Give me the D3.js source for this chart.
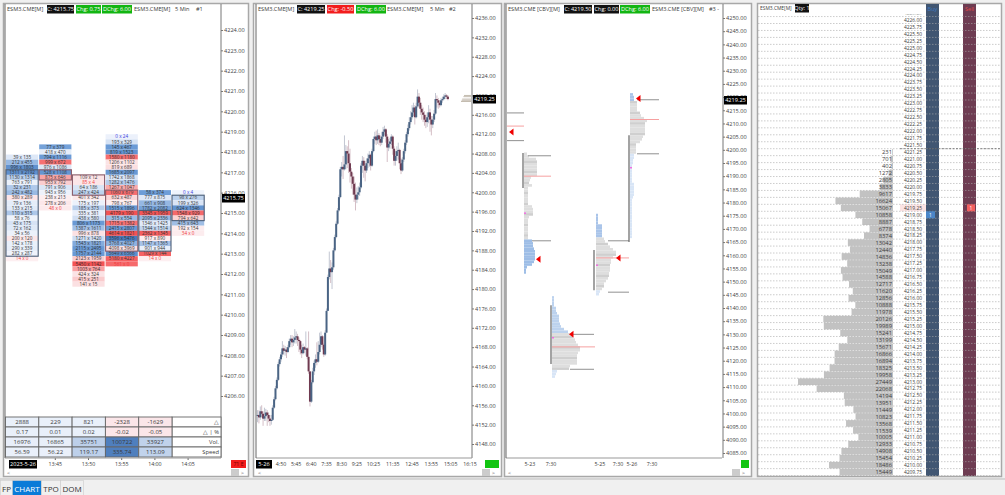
<!DOCTYPE html>
<html>
<head>
<meta charset="utf-8">
<script src="https://cdn.jsdelivr.net/npm/d3@7"></script>
<style>
body { margin: 0; background: #f0f0f0; overflow: hidden; }
text { font-family: "Open Sans", sans-serif; fill: #333; }
</style>
</head>
<body>
<div class="chart"></div>
<script>
// pane 1 footprint, top price + "bid x ask" per row
const fpTimes = ["13:40", "13:45", "13:50", "13:55", "14:00", "14:05"];
const fpTops = [4217.75, 4218.25, 4216.75, 4218.75, 4216, 4216];
const fpBid = [
  [39,212,996,1311,1130,763,32,242,380,79,133,110,58,43,72,34,200,142,290,282,14],
  [77,418,794,999,976,528,875,953,791,943,238,278,48],
  [109,85,64,247,401,175,185,335,438,806,1387,996,1271,1543,2115,1757,2123,5450,1003,424,415,141],
  [0,193,145,819,1580,1206,819,1685,1742,1282,1267,1060,632,798,1515,4179,315,1715,2415,4614,3596,3768,4098,5649,5180,561],
  [58,777,661,1782,3345,2095,1346,1344,2362,917,1147,901,1029,14],
  [0,98,199,624,1548,794,415,192,34]
];
const fpAsk = [
  [135,455,1803,2192,1314,791,231,482,289,136,215,315,76,175,162,56,120,178,339,287,0],
  [379,470,1116,672,1086,1108,646,792,906,956,213,206,0],
  [12,4,186,424,342,197,373,381,580,1173,1611,878,1420,1821,2495,2144,1959,1142,764,324,251,15],
  [24,329,467,1523,1180,1102,689,2097,1868,1476,1047,679,487,767,1896,190,554,1382,2807,1821,5476,4027,3969,6566,4227,0],
  [374,875,908,2082,1959,2336,1425,1514,1345,890,1365,944,144,0],
  [4,276,326,1346,929,642,643,154,0]
];
// value area boxes per column
const fpBoxHigh = [4217, 4217, 4216.75, 4216, 4215, 4215.75];
const fpBoxLow = [4213, 4216.75, 4216, 4213.25, 4213.25, 4214.75];
const fpBoxTone = ["#4d5f78", "#8a5a68", "#8a5a68", "#8a5a68", "#4d5f78", "#4d5f78"];
const statDelta = [2888, 229, 821, -2328, -1629];
const statPct = ["0.17", "0.01", "0.02", "-0.02", "-0.05"];
const statVol = [16976, 16865, 35751, 100722, 33927];
const statSpeed = ["56.59", "56.22", "119.17", "335.74", "113.09"];
const statRows = ["△", "△ | %", "Vol.", "Speed"];

// pane 2 candles, 5 min bars
const firstBar = "3:25";
const closes = [4154,4153.5,4154.75,4154.25,4153.25,4153.75,4154.5,4154,4153.25,4152.75,4153,4155.5,4157.25,4159.5,4161.25,4164.5,4165.5,4166.5,4167.75,4167.25,
  4167.5,4167,4168,4169.25,4169.75,4169,4169.5,4170,4170.25,4169.5,4169.25,4167.5,4166.75,4168,4167.5,4167.75,4166,4163,4156.75,4160.75,
  4163,4164.75,4165.5,4165,4167,4168.5,4170.25,4168.5,4166.5,4171,4175.5,4182.5,4184.25,4183.5,4184.5,4188,4190.75,4193.5,4196.25,4199,
  4204.75,4205.25,4204.75,4205.75,4208.5,4208,4206,4204.25,4203.25,4201.75,4199.5,4198.5,4199.5,4200,4201,4205.5,4206.5,4205.5,4204.5,4206,
  4207,4207.75,4205.5,4208.5,4211,4211.5,4210.75,4211.75,4211,4210.25,4211.5,4212.5,4213,4211.5,4209.25,4210,4210.5,4211.5,4209,4206.5,
  4207.5,4208.5,4208.75,4206,4204.5,4206.75,4208.5,4210.25,4212,4213.25,4214.5,4215.5,4216.5,4217.5,4215.5,4217.75,4219.75,4218.5,4217.25,4216.5,
  4216,4215,4214.5,4215.5,4216.5,4215,4214,4215,4216.25,4219.25,4219,4218.5,4218,4219,4219.25,4219.75,4220,4219.75,4219.25];
const highs = [4155,4155,4155.75,4156,4154.75,4155.5,4155.25,4155,4154.5,4154,4154,4156,4157.75,4160,4161.75,4165,4166,4167,4169.25,4168.5,
  4168.25,4168,4168.5,4169.75,4170.5,4170.5,4170.25,4171.75,4171.25,4170.75,4170,4169.5,4168.5,4168.75,4168.25,4171.25,4168,4171.25,4163,4161.25,
  4163.75,4165.25,4166.5,4169,4169.25,4171,4171.25,4170.5,4168.75,4171.5,4176,4183,4187.75,4186,4185.5,4188.5,4191.25,4194,4196.75,4199.5,
  4205.25,4206.25,4207.5,4211.75,4209.75,4209.5,4210.75,4209,4205,4204,4203.25,4202,4201,4201.25,4202,4206,4207.5,4207.25,4206.5,4207,
  4208,4208.5,4208,4209,4211.5,4212.5,4212.75,4213,4212.25,4211.75,4212.5,4213.5,4213.75,4213.25,4212,4211,4211.25,4212,4211.75,4209.5,
  4208.5,4209.5,4210.25,4209,4207,4207.25,4209,4210.75,4212.5,4214,4215.5,4216.75,4218,4218.5,4218,4218.5,4221.25,4220.5,4219.5,4218,
  4217.5,4216.75,4216,4216.5,4218,4217.25,4215.75,4215.75,4217,4220.5,4220,4219.5,4219,4219.5,4219.75,4220.25,4220.5,4220.25,4220];
const lows = [4152.5,4152.25,4153,4153.5,4151.75,4152.75,4152.75,4151.75,4152.5,4151.75,4152,4152.75,4155.25,4157,4159.25,4161,4164,4165,4166,4166.5,
  4166.25,4165.75,4166.75,4167.75,4168.5,4168,4168.25,4168.75,4168.75,4168.25,4167,4166.5,4165.75,4166.5,4166.75,4166.25,4165.5,4162.5,4155.75,4156.5,
  4160.5,4162.25,4163.75,4164.25,4164.75,4166.5,4168,4167.5,4166,4166.25,4171,4175.5,4182,4181.25,4180,4184,4187.75,4190.5,4193.25,4196,
  4198.75,4203.25,4202.75,4204.5,4204.75,4205,4204,4202,4200.75,4199.5,4198,4196.25,4197.75,4198.5,4199.25,4200.75,4204,4203,4202.25,4204,
  4205,4205.25,4204.5,4205.25,4208.25,4210,4209.75,4210,4209.75,4209.5,4209.75,4211,4211.75,4210.25,4206.25,4208.5,4209,4209.75,4207.75,4205.5,
  4205.5,4206.5,4206.75,4204.75,4203.75,4204.25,4206.25,4208,4209.75,4211.5,4212.75,4214,4215,4215.75,4214,4215.25,4217.5,4217.5,4216,4215,
  4214.5,4213.75,4213.25,4213.5,4214.25,4212.5,4211.75,4213.25,4214.5,4216,4217.5,4217.25,4217.5,4217.75,4218.5,4219,4219.25,4219.25,4219];
const candleTicks = ["4:50","5:45","6:40","7:35","8:30","9:25","10:25","11:35","12:45","13:55","15:05","16:15"];
const lastTrades = [4220, 4219.75, 4219.25, 4219, 4218.75];

// pane 3 volume profiles, one row per point from the top price down
const profileSlots = [17, 45, 89, 123];
const profileTops = [4199, 4144.5, 4175.75, 4221.5];
const profileLead = [0, 14, 9, 3]; // blue rows above the gray block
const profileGray = [33, 14, 20, 20];
const profileWidths = [
  [3,5,12,13,13,13,13,13,13,7,6,5,8,4,4,4,4,4,4,4,8,9,9,9,5,4,4,4,4,4,4,4,4,8,9,9,10,11,11,11,11,10,8,3,2,2],
  [2,2,2,2,4,4,5,7,7,7,8,9,12,16,20,21,23,24,26,28,28,26,25,25,25,25,18,17,5,4,3],
  [2,2,2,2,6,6,6,6,6,8,9,12,14,17,20,20,17,15,15,14,14,14,13,13,12,10,8,8,6,4,3],
  [3,4,4,7,7,7,7,10,11,14,17,15,15,15,15,15,13,12,10,6,6,6,6,4,4,3,3,2,2,2,2,2,2,2,4,4,4,4,4,3,2,2,2,2,2,2,2,2,2,2,2,2,2,2,2]
];
const vaPrices = [4214, 4203.5, 4197.75, 4165.5, 4130, 4116.75, 4165.5, 4146, 4219, 4198.5];
const vaFrom = [0, 0, 21, 25, 66, 63, 101, 101, 130, 130];
const vaTo = [17, 17, 44, 44, 87, 87, 122, 122, 152, 152];
const pocPrices = [4209, 4190, 4125.25, 4159, 4211.5];
const pocFrom = [0, 17, 45, 89, 123];
const pocTo = [17, 44, 88, 122, 152];
const arrowPrices = [4206.75, 4158.5, 4130, 4159, 4219.5];
const arrowSlots = [4, 31, 64, 111, 131];
const spineSlots = [16, 44, 87, 122];
const spineTop = [4198.75, 4141, 4162, 4205.5];
const spineBottom = [4185.5, 4118.75, 4146.75, 4165];
const dotPrices = [4176.25, 4129, 4156.5, 4193.5];
const pane3Ticks = d3.range(4250, 4080, -5);
const pane3Labels = ["5-23", "7:30", "5-25", "7:30", "5-26", "7:30"];
const pane3LabelSlot = [23, 44, 93, 111, 125, 145];

// pane 4 ladder
const ladderTop = 4226.25;
const ladderBottom = 4209.75;
const ladderFirstVol = 4221.25;
const ladderVol = [231,701,402,1272,2805,3833,9617,16624,15067,10858,8887,6778,8374,13042,12440,14836,13238,15049,14588,12717,11620,12856,10888,11978,20126,19989,15241,13199,15671,16866,16894,18325,19958,27449,22068,14194,13951,11449,10823,13568,11539,10005,12933,14908,15454,18486,15449];

const tabNames = ["FP", "CHART", "TPO", "DOM"];

const svg = d3.select(".chart").append("svg").attr("width", 1005).attr("height", 495);
const defs = svg.append("defs");
const LABEL = 5.6;

function txt(g, x, y, s, size, anchor, color) {
  return g.append("text").attr("x", x).attr("y", y).attr("font-size", size)
    .attr("text-anchor", anchor || "start").style("fill", color || "#3a3a3a").text(s);
}
function tag(g, x, y, w, s, bg, color) {
  g.append("rect").attr("x", x).attr("y", y - 6).attr("width", w).attr("height", 8.5).attr("fill", bg);
  txt(g, x + w / 2, y, s, LABEL, "middle", color || "#fff");
}
function frame(x, w) {
  svg.append("rect").attr("x", x + .5).attr("y", 3.5).attr("width", w).attr("height", 473)
    .attr("fill", "#fff").attr("stroke", "#a8a8a8").attr("stroke-width", 1.5);
}
function priceAxis(scale, x, ticks) {
  const ax = svg.append("g").attr("transform", `translate(${x},0)`)
    .call(d3.axisRight(scale).tickValues(ticks).tickSize(2).tickSizeOuter(0).tickPadding(1).tickFormat(d3.format(".2f")));
  ax.select("path").remove();
  ax.selectAll("line").attr("stroke", "#777");
  ax.selectAll("text").attr("font-size", LABEL).style("font-family", '"Open Sans", sans-serif').style("fill", "#444");
  ax.append("line").attr("y1", 4).attr("y2", 458).attr("stroke", "#777");
}
function bottomBits(x0, x1, boxX, boxW, boxColor, label) {
  svg.append("line").attr("x1", x0).attr("x2", x1 - 4).attr("y1", 458).attr("y2", 458).attr("stroke", "#999");
  svg.append("line").attr("x1", x0).attr("x2", x0).attr("y1", 4).attr("y2", 458).attr("stroke", "#666");
  svg.append("rect").attr("x", boxX).attr("y", 460).attr("width", boxW).attr("height", 8).attr("fill", boxColor);
  if (label) txt(svg, boxX + boxW / 2, 466, label, 5.2, "middle", "#700");
  txt(svg, x0 + 2, 474.5, "<", 5.6, "start", "#666");
  txt(svg, x1 + 19, 474.5, ">", 5.6, "end", "#666");
  svg.append("rect").attr("x", x1 + 6).attr("y", 469).attr("width", 8).attr("height", 7).attr("fill", "#ccc");
}

frame(3, 245); frame(253, 248); frame(504, 247); frame(757, 244);

// ---------- pane 1
const y1 = d3.scaleLinear().domain([4224, 4206]).range([30, 396]);
const x1 = d3.scaleBand().domain(fpTimes).range([5.5, 204.7]);
const rowH1 = y1(4224) - y1(4224.25);
const blues = d3.scaleLinear().domain([0, 130, 320, 1800]).range(["#f0f4fc", "#d8e4f5", "#6b9bd6", "#4a7cbd"]).clamp(true);
const reds = d3.scaleLinear().domain([0, 130, 320, 1500]).range(["#fdf1f3", "#fbdfe1", "#f67072", "#f45254"]).clamp(true);
const g1 = svg.append("g");
fpTimes.forEach((t, c) => {
  fpBid[c].forEach((b, i) => {
    const a = fpAsk[c][i];
    const price = fpTops[c] - i * .25;
    const d = a - b;
    g1.append("rect").attr("x", x1(t) + .5).attr("width", x1.bandwidth() - 1)
      .attr("y", y1(price) - rowH1 / 2).attr("height", rowH1)
      .attr("fill", d >= 0 ? blues(d) : reds(-d));
    const col = b === 0 ? "#3a3adf" : a < 5 ? "#f03a3a" : "#333";
    txt(g1, x1(t) + x1.bandwidth() / 2, y1(price) + 1.7, `${b} x ${a}`, 4.6, "middle", col);
  });
  g1.append("rect").attr("x", x1(t) + .5).attr("width", x1.bandwidth() - 1)
    .attr("y", y1(fpBoxHigh[c]) - rowH1 / 2).attr("height", y1(fpBoxLow[c]) - y1(fpBoxHigh[c]) + rowH1)
    .attr("fill", "none").attr("stroke", fpBoxTone[c]).attr("stroke-width", 1.1);
});
priceAxis(y1, 221, d3.range(4224, 4205, -1));
tag(svg, 222, 200, 23, "4215.75", "#000");

txt(svg, 7, 11, "ESM3.CME[M]", LABEL);
tag(svg, 47, 11, 27, "C: 4215.75", "#111");
tag(svg, 76, 11, 25, "Chg: 0.75", "#12b512");
tag(svg, 102, 11, 30, "DChg: 6.00", "#12b512");
txt(svg, 134, 11, "ESM3.CME[M]", LABEL);
txt(svg, 175, 11, "5 Min", LABEL);
txt(svg, 196, 11, "#1", LABEL);

// stats table
const statCols = d3.scaleBand().domain(fpTimes.slice(0, 5)).range([5.5, 172]);
const statY = d3.scaleBand().domain(statRows).range([417, 457]);
const volColor = d3.scaleLinear().domain([16000, 35000, 101000]).range(["#eaf0fa", "#bdd0ea", "#4f7fbe"]);
const speedColor = d3.scaleLinear().domain([56, 119, 336]).range(["#eaf0fa", "#bdd0ea", "#4f7fbe"]);
const signColor = v => +v < 0 ? "#fbe6e9" : "#e9f0fa";
const statData = [statDelta, statPct, statVol, statSpeed];
statRows.forEach((r, ri) => {
  svg.append("rect").attr("x", 172).attr("y", statY(r)).attr("width", 49).attr("height", statY.bandwidth())
    .attr("fill", "#fff").attr("stroke", "#666").attr("stroke-width", .9);
  statCols.domain().forEach((t, ci) => {
    const v = statData[ri][ci];
    const fill = ri === 2 ? volColor(v) : ri === 3 ? speedColor(+v) : signColor(v);
    svg.append("rect").attr("x", statCols(t)).attr("y", statY(r)).attr("width", statCols.bandwidth()).attr("height", statY.bandwidth())
      .attr("fill", fill).attr("stroke", "#666").attr("stroke-width", .9);
    txt(svg, statCols(t) + statCols.bandwidth() / 2, statY(r) + 7, v, 6, "middle");
  });
  txt(svg, 219, statY(r) + 7, r, 5.8, "end");
});
fpTimes.slice(1).forEach(t => {
  const cx = x1(t) + x1.bandwidth() / 2;
  txt(svg, cx, 466, t, 5.3, "middle");
  svg.append("line").attr("x1", cx).attr("x2", cx).attr("y1", 458).attr("y2", 460).attr("stroke", "#666");
});
tag(svg, 9, 466, 28, "2023-5-26", "#000");
bottomBits(5, 225, 231, 15, "#f21c1c", "71 E");

// ---------- pane 2
const toMin = s => { const p = s.split(":"); return +p[0] * 60 + +p[1]; };
const y2 = d3.scaleLinear().domain([4236, 4148]).range([18, 444]);
const x2 = d3.scaleLinear().domain([toMin("4:50"), toMin("16:15")]).range([281, 470]);
const g2 = svg.append("g");
closes.forEach((c, i) => {
  const t = toMin(firstBar) + i * 5;
  const up = c >= (i ? closes[i - 1] : c);
  g2.append("line").attr("x1", x2(t)).attr("x2", x2(t)).attr("y1", y2(highs[i])).attr("y2", y2(lows[i]))
    .attr("stroke", up ? "#c2c6d2" : "#d4bec6").attr("stroke-width", 1);
});
closes.forEach((c, i) => {
  const t = toMin(firstBar) + i * 5;
  const o = i ? closes[i - 1] : c;
  const up = c >= o;
  g2.append("rect").attr("x", x2(t) - 1).attr("width", 2)
    .attr("y", y2(Math.max(o, c))).attr("height", Math.max(1, Math.abs(y2(o) - y2(c))))
    .attr("fill", up ? "#4a6484" : "#6f3a50");
});
g2.selectAll(".last").data(lastTrades).enter().append("line")
  .attr("x1", d3.scaleLinear().domain([4218.75, 4220]).range([461, 464])).attr("x2", 471)
  .attr("y1", d => y2(d)).attr("y2", d => y2(d)).attr("stroke", "#b5ab9c").attr("stroke-width", .8);
priceAxis(y2, 472, d3.range(4236, 4147, -4));
tag(svg, 473, 101, 23, "4219.25", "#000");
txt(svg, 258, 11, "ESM3.CME[M]", LABEL);
tag(svg, 297, 11, 28, "C: 4219.25", "#111");
tag(svg, 327, 11, 27, "Chg: -0.50", "#f21c1c");
tag(svg, 356, 11, 30, "DChg: 6.00", "#12b512");
txt(svg, 387, 11, "ESM3.CME[M]", LABEL);
txt(svg, 430, 11, "5 Min", LABEL);
txt(svg, 449, 11, "#2", LABEL);
candleTicks.forEach(t => txt(svg, x2(toMin(t)), 466, t, 5.3, "middle"));
tag(svg, 256, 466, 16, "5-26", "#000");
bottomBits(256, 476, 485, 14, "#12c512");

// ---------- pane 3
const y3 = d3.scaleLinear().domain([4250, 4085]).range([18, 453]);
const x3 = d3.scaleLinear().domain([0, 240]).range([507, 747]);
const w3 = d3.scaleLinear().domain([0, 30]).range([0, 30]);
const rowH3 = y3(4200) - y3(4201);
const g3 = svg.append("g");
profileWidths.forEach((widths, p) => {
  const lead = profileLead[p], gray = profileGray[p];
  const base = x3(profileSlots[p]);
  widths.forEach((w, i) => {
    const fill = i >= lead && i < lead + gray ? (i % 4 === 3 ? "#cfcfcf" : "#dedede")
      : p === 0 ? "#9dbde6"
      : i >= lead + gray ? "#d8e5f6"
      : p === 1 ? "#bcd2ee" : "#a9c4e9";
    g3.append("rect").attr("x", base).attr("y", y3(profileTops[p] - i)).attr("width", w3(w)).attr("height", rowH3).attr("fill", fill);
  });
});
vaPrices.forEach((v, i) => {
  g3.append("line").attr("x1", x3(vaFrom[i])).attr("x2", x3(vaTo[i])).attr("y1", y3(v)).attr("y2", y3(v)).attr("stroke", "#9a9a9a").attr("stroke-width", 1.1);
});
pocPrices.forEach((v, i) => {
  g3.append("line").attr("x1", x3(pocFrom[i])).attr("x2", x3(pocTo[i])).attr("y1", y3(v)).attr("y2", y3(v)).attr("stroke", "#f6a0a0").attr("stroke-width", 1);
});
spineSlots.forEach((s, i) => {
  g3.append("line").attr("x1", x3(s)).attr("x2", x3(s)).attr("y1", y3(spineTop[i])).attr("y2", y3(spineBottom[i])).attr("stroke", "#666").attr("stroke-width", 1.2);
});
arrowPrices.forEach((v, i) => {
  g3.append("path").attr("transform", `translate(${x3(arrowSlots[i])},${y3(v)})`).attr("d", "M-2 0L2.5 -3.5V3.5Z").attr("fill", "#f00000");
});
dotPrices.forEach((v, i) => {
  g3.append("rect").attr("x", x3(profileSlots[i])).attr("y", y3(v)).attr("width", 2).attr("height", 1.5).attr("fill", "#f070e0");
});
priceAxis(y3, 723, pane3Ticks);
tag(svg, 724, 102, 23, "4219.25", "#000");
txt(svg, 508, 11, "ESM3.CME [CBV][M]", LABEL);
tag(svg, 564, 11, 28, "C: 4219.50", "#111");
tag(svg, 594, 11, 25, "Chg: 0.00", "#111");
tag(svg, 620, 11, 30, "DChg: 6.00", "#12b512");
txt(svg, 652, 11, "ESM3.CME [CBV][M]", LABEL);
txt(svg, 709, 11, "#3 -", LABEL);
pane3Labels.forEach((l, i) => txt(svg, x3(pane3LabelSlot[i]), 466, l, 5.3, "middle"));
bottomBits(506, 726, 741, 8, "#12c512");

// ---------- pane 4
const priceRows = d3.range(ladderTop, ladderBottom - .01, -.25);
const y4 = d3.scaleBand().domain(priceRows).range([9.6, 9.6 + 6.955 * priceRows.length]);
const w4 = d3.scaleLinear().domain([0, 27449]).range([0, 95]);
defs.append("clipPath").attr("id", "ladder").append("rect").attr("x", 757).attr("y", 14.5).attr("width", 244).attr("height", 461.5);
const g4 = svg.append("g").attr("clip-path", "url(#ladder)");
svg.append("rect").attr("x", 926).attr("y", 4).attr("width", 13).attr("height", 472).attr("fill", "#415672");
svg.append("rect").attr("x", 963).attr("y", 4).attr("width", 13).attr("height", 472).attr("fill", "#6e3c52");
const g4top = svg.append("g").attr("clip-path", "url(#ladder)");
g4.append("rect").attr("x", 900).attr("y", y4(4219.25)).attr("width", 26).attr("height", y4.bandwidth()).attr("fill", "#fbe3e3");
ladderVol.forEach((v, i) => {
  const p = ladderFirstVol - i * .25;
  g4.append("rect").attr("x", 893 - w4(v)).attr("y", y4(p) + .2).attr("width", w4(v)).attr("height", y4.bandwidth() - .4).attr("fill", "#c2c2c2");
  txt(g4, 892, y4(p) + 5.6, v, 5.8, "end");
});
priceRows.forEach(p => {
  g4top.append("line").attr("x1", 758).attr("x2", 1000).attr("y1", y4(p) + y4.bandwidth()).attr("y2", y4(p) + y4.bandwidth())
    .attr("stroke", "#aaa").attr("stroke-width", .6).attr("stroke-dasharray", "1.5,1.5");
  txt(g4, 922, y4(p) + 5.3, p.toFixed(2), 4.9, "end");
});
g4top.append("line").attr("x1", 900).attr("x2", 1000).attr("y1", y4(4221.5) + y4.bandwidth()).attr("y2", y4(4221.5) + y4.bandwidth())
  .attr("stroke", "#555").attr("stroke-width", .7).attr("stroke-dasharray", "2,1.5");
g4top.append("rect").attr("x", 926).attr("y", y4(4219)).attr("width", 9).attr("height", y4.bandwidth()).attr("fill", "#4a86c8");
txt(g4top, 930.5, y4(4219) + 5.3, "1", 5, "middle", "#fff");
g4top.append("rect").attr("x", 967).attr("y", y4(4219.25)).attr("width", 8).attr("height", y4.bandwidth()).attr("fill", "#f26060");
txt(g4top, 971, y4(4219.25) + 5.3, "1", 5, "middle", "#fff");
txt(svg, 760, 10, "ESM3.CME[M]", 4.9);
tag(svg, 795, 10, 14, "Qty: 1", "#111");
txt(svg, 932.5, 11, "Buy", 5.6, "middle", "#3f78c0");
txt(svg, 969.5, 11, "Sell", 5.6, "middle", "#e04848");

// ---------- tabs
const tabX = d3.scaleOrdinal().domain(tabNames).range([0, 12, 41, 60]);
const tabW = d3.scaleOrdinal().domain(tabNames).range([12, 29, 19, 23]);
svg.append("line").attr("x1", 0).attr("x2", 1005).attr("y1", 479).attr("y2", 479).attr("stroke", "#bbb");
tabNames.forEach(t => {
  const active = t === "CHART";
  svg.append("rect").attr("x", tabX(t) + .5).attr("y", 480.5).attr("width", tabW(t)).attr("height", 15)
    .attr("fill", active ? "#0a7bd8" : "#f0f0f0").attr("stroke", "#ccc").attr("stroke-width", .6);
  txt(svg, tabX(t) + tabW(t) / 2 + .5, 491.5, t, 8, "middle", active ? "#fff" : "#333");
});
</script>
</body>
</html>
